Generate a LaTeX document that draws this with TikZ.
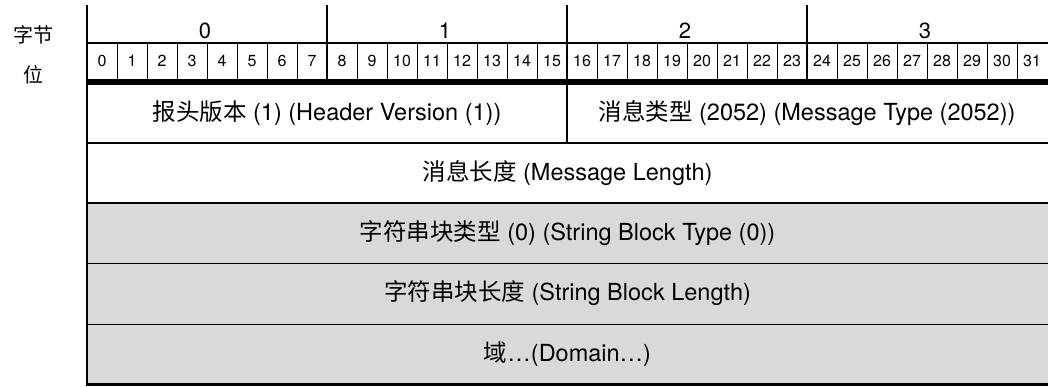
\documentclass[tikz,border=0pt]{standalone}
\usepackage{fontspec}
\setmainfont{TeX Gyre Heros}
\newfontfamily\cjk{Noto Sans CJK SC}
\definecolor{cellgray}{HTML}{D9D9D9}
\tikzset{
  field/.style={inner sep=0pt, anchor=center, font=\fontsize{23.5}{28}\selectfont},
  bytenum/.style={inner sep=0pt, anchor=center, font=\fontsize{22}{26}\selectfont},
  bitnum/.style={inner sep=0pt, anchor=center, font=\fontsize{16}{19}\selectfont},
  sidelabel/.style={inner sep=0pt, anchor=center, font=\fontsize{20}{24}\selectfont\cjk},
  thinrule/.style={line width=1pt, black},
  midrule/.style={line width=2pt, black},
}
\begin{document}
\begin{tikzpicture}[x=1pt,y=-1pt]
\useasboundingbox (0,0) rectangle (1048,387);
% gray area
\fill[cellgray] (87,203) rectangle (1048,385);
% byte row
\foreach \k in {0,1,2,3} {
  \node[bytenum] (byte\k) at ({205+240*\k},31) {\k};
}
\draw[line width=1.2pt] (87,43) -- (1048,43);
% bit row
\foreach \i in {0,...,31} {
  \node[bitnum] (bit\i) at ({102+30*\i},61) {\i};
}
\foreach \i in {1,...,31} {
  \draw[line width=0.9pt] ({87+30*\i},43) -- ({87+30*\i},80);
}
\foreach \k in {1,2,3} {
  \draw[line width=1.6pt] ({87+240*\k},5) -- ({87+240*\k},80);
}
\draw[line width=6pt] (87,82) -- (1048,82);
% side labels
\node[sidelabel] (lblbyte) at (33,34.5) {字节};
\node[sidelabel] (lblbit) at (33.5,74.5) {位};
% header row
\draw[midrule] (567,85) -- (567,143);
\node[field] (hver) at (327,113) {{\cjk 报头版本} (1) (Header Version (1))};
\node[field] (mtype) at (807,113) {{\cjk 消息类型} (2052) (Message Type (2052))};
\draw[midrule] (87,143) -- (1048,143);
\node[field] (mlen) at (567.5,173) {{\cjk 消息长度} (Message Length)};
\draw[midrule] (87,203) -- (1048,203);
\node[field] (sbtype) at (567.5,233) {{\cjk 字符串块类型} (0) (String Block Type (0))};
\draw[thinrule] (87,263.5) -- (1048,263.5);
\node[field] (sblen) at (567.5,293.5) {{\cjk 字符串块长度} (String Block Length)};
\draw[thinrule] (87,324.5) -- (1048,324.5);
\node[field] (domain) at (567.5,354.5) {{\cjk 域}…(Domain…)};
\draw[line width=3pt] (87,384.5) -- (1048,384.5);
% left edge
\draw[line width=2.6pt] (87,5) -- (87,386);
\end{tikzpicture}
\end{document}
